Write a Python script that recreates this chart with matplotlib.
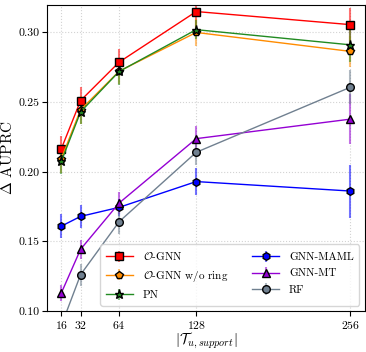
import numpy as np
import matplotlib.pyplot as plt

plt.rcParams['font.family'] = 'serif'
plt.rcParams['font.serif'] = ['cmr10', 'DejaVu Serif']
plt.rcParams['mathtext.fontset'] = 'cm'
plt.rcParams['axes.formatter.use_mathtext'] = True
plt.rcParams['axes.unicode_minus'] = False

x = [16, 32, 64, 128, 256]

ognn = [0.2165, 0.2511, 0.2787, 0.3150, 0.3056]
ognn_err = [0.009, 0.0095, 0.0095, 0.012, 0.012]
ognn_noring = [0.2095, 0.2445, 0.2722, 0.3000, 0.2864]
ognn_noring_err = [0.010, 0.010, 0.009, 0.010, 0.011]
pn = [0.2075, 0.2430, 0.2720, 0.3020, 0.2911]
pn_err = [0.009, 0.009, 0.010, 0.007, 0.012]
maml = [0.1610, 0.1680, 0.1745, 0.1930, 0.1862]
maml_err = [0.0085, 0.0085, 0.006, 0.0095, 0.019]
mt = [0.1130, 0.1444, 0.1776, 0.2238, 0.2378]
mt_err = [0.006, 0.007, 0.008, 0.009, 0.018]
rf = [0.0896, 0.1262, 0.1642, 0.2140, 0.2607]
rf_err = [0.008, 0.008, 0.009, 0.009, 0.012]

fig = plt.figure(figsize=(3.66, 3.52), dpi=100)
ax = fig.add_axes([0.128, 0.116, 0.869, 0.871])

series = [
    (ognn, ognn_err, 'red', 's', 5.5, r'$\mathcal{O}$-GNN'),
    (ognn_noring, ognn_noring_err, 'darkorange', 'p', 5.5, r'$\mathcal{O}$-GNN w/o ring'),
    (pn, pn_err, 'forestgreen', '*', 6.5, 'PN'),
    (maml, maml_err, 'blue', 'h', 5.5, 'GNN-MAML'),
    (mt, mt_err, 'darkviolet', '^', 5.5, 'GNN-MT'),
    (rf, rf_err, 'slategray', 'o', 5.5, 'RF'),
]

for y, e, c, m, ms, lab in series:
    eb = ax.errorbar(x, y, yerr=e, color=c, marker=m, ms=ms, mec='black',
                     mfc=c, lw=1, elinewidth=1.5, capsize=0, label=lab)
    for bar in eb[2]:
        bar.set_alpha(0.55)

ax.set_xlim(4, 268)
ax.set_ylim(0.10, 0.32)
ax.set_xticks(x)
ax.set_yticks([0.10, 0.15, 0.20, 0.25, 0.30])
ax.set_yticklabels(['0.10', '0.15', '0.20', '0.25', '0.30'])
ax.grid(True, ls=':', color='lightgray', lw=0.8)
ax.tick_params(labelsize=8.5, pad=2)
ax.set_xlabel(r'$|\mathcal{T}_{u,support}|$', fontsize=10.5, labelpad=0)
ax.set_ylabel(r'$\Delta$ AUPRC', fontsize=11, labelpad=2)
ax.legend(ncol=2, loc='lower right', fontsize=8, handlelength=2.4,
          handletextpad=0.9, columnspacing=2.2, borderpad=0.5,
          labelspacing=0.6)

fig.savefig('out.png', dpi=100)
